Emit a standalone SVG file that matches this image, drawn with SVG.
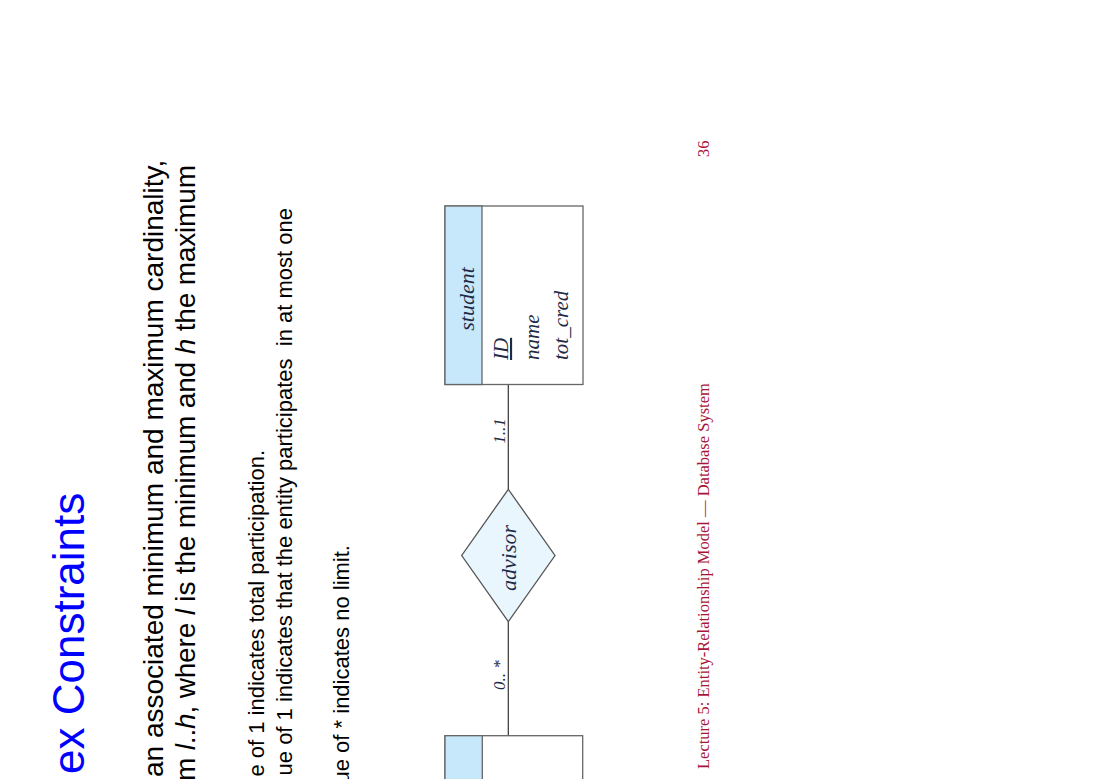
<svg xmlns="http://www.w3.org/2000/svg" width="1100" height="779" viewBox="0 0 1100 779">
  <style>
    .title { font-family: "Liberation Sans", Arial, sans-serif; font-size: 44px; fill: #0000ff; }
    .body { font-family: "Liberation Sans", Arial, sans-serif; font-size: 28px; fill: #000; }
    .sub { font-family: "Liberation Sans", Arial, sans-serif; font-size: 22px; fill: #000; }
    .foot { font-family: "Liberation Serif", "Times New Roman", serif; font-size: 16.5px; fill: #a8153a; }
    .er { font-family: "Liberation Serif", "Times New Roman", serif; font-style: italic; fill: #1f2a44; }
    .ename { font-size: 22px; }
    .attr { font-size: 21px; }
    .card { font-size: 17px; }
    .band { fill: #c6e8fa; stroke: #666; stroke-width: 1.3; }
    .box { fill: #fff; stroke: #666; stroke-width: 1.3; }
    .rel { fill: #e9f6fd; stroke: #555; stroke-width: 1.3; }
    .link { stroke: #333; stroke-width: 1.2; fill: none; }
  </style>
  <rect width="1100" height="779" fill="#fff"/>

  <!-- slide heading and bullet text, laid out along the rotated page -->
  <g id="slide-text">
    <text class="title" transform="translate(84,774) rotate(-90)">ex Constraints</text>
    <text class="body" transform="translate(163,777) rotate(-90)">an associated minimum and maximum cardinality,</text>
    <text class="body" transform="translate(195,781) rotate(-90)" textLength="616" lengthAdjust="spacing">m <tspan font-style="italic">l</tspan>..<tspan font-style="italic">h</tspan>, where <tspan font-style="italic">l</tspan> is the minimum and <tspan font-style="italic">h</tspan> the maximum</text>
    <text class="sub" text-anchor="end" transform="translate(264,450) rotate(-90)">e of 1 indicates total participation.</text>
    <text class="sub" text-anchor="end" xml:space="preserve" transform="translate(292,208) rotate(-90)">ue of 1 indicates that the entity participates  in at most one</text>
    <text class="sub" text-anchor="end" transform="translate(349,545) rotate(-90)">ue of * indicates no limit.</text>
  </g>

  <!-- connectors between entities and the relationship -->
  <g id="connectors">
    <line class="link" x1="508.3" y1="384.5" x2="508.3" y2="489.3"/>
    <line class="link" x1="508.3" y1="621.7" x2="508.3" y2="735.7"/>
    <text class="er card" text-anchor="middle" transform="translate(505,431) rotate(-90)">1..1</text>
    <text class="er card" text-anchor="middle" xml:space="preserve" transform="translate(505,675) rotate(-90)">0.. *</text>
  </g>

  <!-- entity: student -->
  <g id="student">
    <rect class="box" x="445" y="206" width="138" height="178.5"/>
    <rect class="band" x="445" y="206" width="37" height="178.5"/>
    <text class="er ename" text-anchor="middle" transform="translate(474,299) rotate(-90)">student</text>
    <text class="er attr" text-anchor="start" transform="translate(508,360) rotate(-90)" text-decoration="underline">ID</text>
    <text class="er attr" text-anchor="start" transform="translate(539,360) rotate(-90)">name</text>
    <text class="er attr" text-anchor="start" transform="translate(568,360) rotate(-90)">tot_cred</text>
  </g>

  <!-- relationship: advisor -->
  <g id="advisor">
    <polygon class="rel" points="508.3,489.3 555,555.5 508.3,621.7 461.7,555.5"/>
    <text class="er ename" text-anchor="middle" transform="translate(516,558) rotate(-90)">advisor</text>
  </g>

  <!-- entity: instructor (runs off the page edge) -->
  <g id="instructor">
    <rect class="box" x="445" y="735.7" width="137.7" height="60"/>
    <rect class="band" x="445" y="735.7" width="37.3" height="60"/>
  </g>

  <!-- footer -->
  <g id="footer">
    <text class="foot" transform="translate(709,769) rotate(-90)">Lecture 5: Entity-Relationship Model — Database System</text>
    <text class="foot" transform="translate(709,157) rotate(-90)">36</text>
  </g>
</svg>
